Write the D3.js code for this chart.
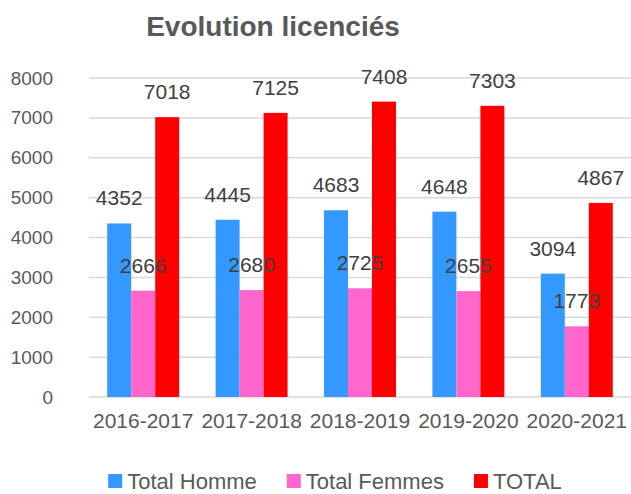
<!DOCTYPE html>
<html>
<head>
<meta charset="utf-8">
<style>
  body { margin: 0; background: #fff; }
  text { font-family: "Liberation Sans", Arial, sans-serif; }
</style>
</head>
<body>
<script src="https://d3js.org/d3.v7.min.js"></script>
<script>

const width = 631;
const height = 494;

const seasons = ['2016-2017', '2017-2018', '2018-2019', '2019-2020', '2020-2021'];
const hommes = [4352, 4445, 4683, 4648, 3094];
const femmes = [2666, 2680, 2725, 2655, 1773];
const totals = [7018, 7125, 7408, 7303, 4867];
const seriesNames = ['Total Homme', 'Total Femmes', 'TOTAL'];
const seriesColors = ['#3399ff', '#ff66cc', '#ff0000'];
const yTicks = [0, 1000, 2000, 3000, 4000, 5000, 6000, 7000, 8000];

const series = [hommes, femmes, totals];
const rows = [];
seasons.forEach((s, i) => {
  series.forEach((vals, k) => {
    rows.push({season: s, key: seriesNames[k], value: vals[i], color: seriesColors[k]});
  });
});

const svg = d3.select('body')
              .append('svg')
              .attr('width', width)
              .attr('height', height);

const x0 = d3.scaleBand()
             .domain(seasons)
             .range([89, 631])
             .paddingInner(0.336)
             .paddingOuter(0.168);

const x1 = d3.scaleBand()
             .domain(seriesNames)
             .range([0, x0.bandwidth()]);

const y = d3.scaleLinear()
            .domain([0, 8000])
            .range([397, 78]);

// title
svg.append('text')
   .attr('x', 273)
   .attr('y', 36)
   .attr('text-anchor', 'middle')
   .attr('font-size', 28)
   .attr('font-weight', 'bold')
   .attr('fill', '#595959')
   .text('Evolution licenciés');

// gridlines
svg.append('g')
   .selectAll('line')
   .data(yTicks)
   .enter()
   .append('line')
   .attr('x1', 89)
   .attr('x2', 631)
   .attr('y1', d => y(d))
   .attr('y2', d => y(d))
   .attr('stroke', '#d9d9d9')
   .attr('stroke-width', 1.5);

// y axis labels
const yAxis = svg.append('g')
   .attr('transform', 'translate(60,0)')
   .call(d3.axisLeft(y).tickValues(yTicks).tickSize(0).tickPadding(7).tickFormat(d3.format('d')));
yAxis.select('.domain').remove();
yAxis.selectAll('text')
     .attr('font-size', 19)
     .attr('font-family', '"Liberation Sans", Arial, sans-serif')
     .attr('fill', '#595959');

// x axis labels
const xAxis = svg.append('g')
   .attr('transform', 'translate(0,397)')
   .call(d3.axisBottom(x0).tickSize(0).tickPadding(16));
xAxis.select('.domain').remove();
xAxis.selectAll('text')
     .attr('font-size', 21)
     .attr('font-family', '"Liberation Sans", Arial, sans-serif')
     .attr('fill', '#595959');

// bars
svg.append('g')
   .selectAll('rect')
   .data(rows)
   .enter()
   .append('rect')
   .attr('x', d => x0(d.season) + x1(d.key))
   .attr('y', d => y(d.value))
   .attr('width', x1.bandwidth())
   .attr('height', d => y(0) - y(d.value))
   .attr('fill', d => d.color);

// value labels
svg.append('g')
   .selectAll('text')
   .data(rows)
   .enter()
   .append('text')
   .attr('x', d => x0(d.season) + x1(d.key) + x1.bandwidth() / 2)
   .attr('y', d => y(d.value) - 18)
   .attr('text-anchor', 'middle')
   .attr('font-size', 21)
   .attr('fill', '#404040')
   .text(d => d.value);

// legend
const legend = svg.append('g');
let lx = 0;
seriesNames.forEach((name, k) => {
  const item = legend.append('g').attr('transform', `translate(${lx},0)`);
  item.append('rect')
      .attr('x', 0)
      .attr('y', 474)
      .attr('width', 14)
      .attr('height', 14)
      .attr('fill', seriesColors[k]);
  const t = item.append('text')
      .attr('x', 19)
      .attr('y', 489)
      .attr('font-size', 22)
      .attr('fill', '#595959')
      .text(name);
  lx += 19 + t.node().getComputedTextLength() + 30;
});
const legendWidth = lx - 30;
legend.attr('transform', `translate(${335 - legendWidth / 2},0)`);

</script>
</body>
</html>
